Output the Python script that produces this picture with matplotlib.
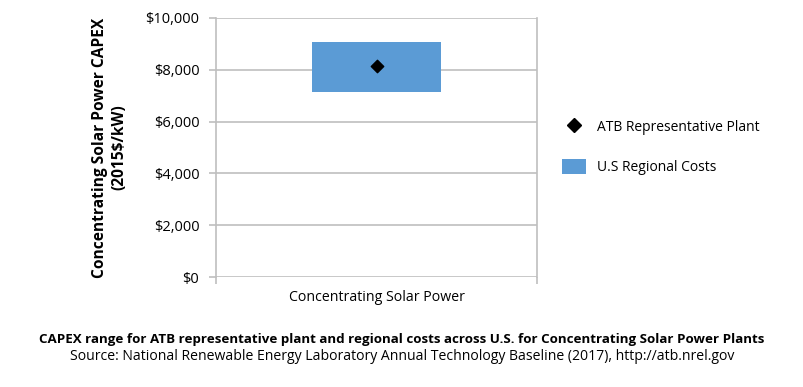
import numpy as np
import matplotlib.pyplot as plt
from matplotlib.patches import Patch
from matplotlib.lines import Line2D

plt.rcParams['font.family'] = ['Open Sans', 'DejaVu Sans']

categories = ['Concentrating Solar Power']
regional_low = [7140]
regional_high = [9070]
atb_plant = [8130]
yticks = [0, 2000, 4000, 6000, 8000, 10000]

blue = '#5B9BD5'
grey = '#BFBFBF'

fig = plt.figure(figsize=(8.04, 3.87), dpi=100)
ax = fig.add_axes([0.2687, 0.2842, 0.3993, 0.6693])

x = np.arange(len(categories))
ax.bar(x, np.array(regional_high) - np.array(regional_low), bottom=regional_low,
       width=0.4, color=blue, zorder=2)
ax.scatter(x, atb_plant, marker='D', s=40, color='black', zorder=3)

ax.set_xlim(-0.5, 0.5)
ax.set_ylim(0, 10000)
ax.set_yticks(yticks)
ax.set_yticklabels(['${:,}'.format(v) for v in yticks], fontsize=10.5)
ax.set_xticks(x)
ax.set_xticklabels(categories, fontsize=10.2)
ax.set_xticks([-0.5, 0.5], minor=True)
ax.tick_params(axis='x', which='major', length=0, pad=9)
ax.tick_params(axis='x', which='minor', length=5, color=grey, width=1.2)
ax.tick_params(axis='y', length=5, color=grey, width=1.2, pad=7)

ax.grid(axis='y', color=grey, linewidth=1.2, zorder=0)
for s in ['top', 'bottom']:
    ax.spines[s].set_visible(False)
for s in ['left', 'right']:
    ax.spines[s].set_color(grey)
    ax.spines[s].set_linewidth(1.2)

ax.set_ylabel('Concentrating Solar Power CAPEX\n(2015$/kW)', fontsize=11.2,
              fontweight='bold', labelpad=13, linespacing=1.3)

handles = [Line2D([], [], marker='D', linestyle='none', color='black', markersize=7),
           Patch(facecolor=blue)]
fig.legend(handles, ['ATB Representative Plant', 'U.S Regional Costs'],
           loc='center left', bbox_to_anchor=(0.683, 0.62), frameon=False,
           fontsize=10, labelspacing=1.7, handlelength=1.75, handleheight=1.3)

fig.text(0.5, 0.124, 'CAPEX range for ATB representative plant and regional costs across U.S. for Concentrating Solar Power Plants',
         ha='center', va='center', fontsize=9.6, fontweight='bold')
fig.text(0.5, 0.078, 'Source: National Renewable Energy Laboratory Annual Technology Baseline (2017), http://atb.nrel.gov',
         ha='center', va='center', fontsize=10.1)

fig.savefig('out.png', dpi=100)
